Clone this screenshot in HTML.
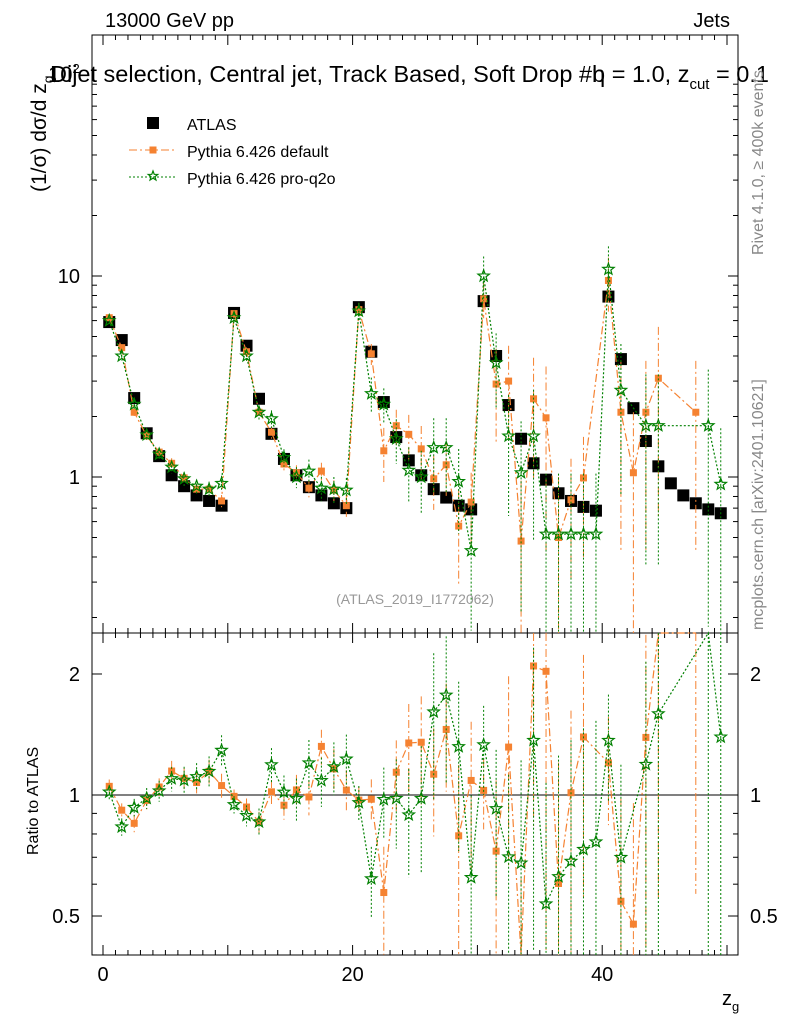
<!DOCTYPE html>
<html><head><meta charset="utf-8"><style>
html,body{margin:0;padding:0;background:#fff;}
svg{font-family:"Liberation Sans",sans-serif;display:block;}
</style></head><body>
<svg id="c" width="786" height="1024" xmlns="http://www.w3.org/2000/svg"></svg>
<script>
// ---- data ----
const binCenters=[0.5,1.5,2.5,3.5,4.5,5.5,6.5,7.5,8.5,9.5,10.5,11.5,12.5,13.5,14.5,15.5,16.5,17.5,18.5,19.5,20.5,21.5,22.5,23.5,24.5,25.5,26.5,27.5,28.5,29.5,30.5,31.5,32.5,33.5,34.5,35.5,36.5,37.5,38.5,39.5,40.5,41.5,42.5,43.5,44.5,45.5,46.5,47.5,48.5,49.5];
const atlas=[5.9,4.8,2.47,1.65,1.27,1.02,0.9,0.81,0.76,0.72,6.55,4.5,2.45,1.64,1.23,1.02,0.89,0.81,0.74,0.7,7.0,4.2,2.36,1.58,1.21,1.02,0.87,0.79,0.72,0.69,7.5,4.0,2.28,1.55,1.17,0.97,0.83,0.76,0.71,0.68,7.9,3.86,2.2,1.51,1.13,0.93,0.81,0.74,0.69,0.66];
const pyDefault=[6.2,4.4,2.1,1.6,1.33,1.17,0.99,0.87,0.87,0.76,6.5,4.2,2.1,1.67,1.16,1.05,0.88,1.07,0.86,0.72,6.8,4.1,1.35,1.8,1.63,1.38,0.98,1.15,0.57,0.75,7.7,2.9,3.0,0.48,2.45,1.97,0.5,0.77,0.99,null,9.5,2.1,1.05,2.1,3.1,null,null,2.1,null,null];
const pyDefaultErr=[0.04,0.04,0.05,0.05,0.05,0.06,0.06,0.06,0.07,0.07,0.04,0.05,0.06,0.07,0.08,0.09,0.1,0.1,0.12,0.12,0.08,0.12,0.3,0.2,0.25,0.3,0.3,0.3,0.5,0.4,0.2,0.5,0.5,1,0.6,0.8,1,0.6,0.6,0,0.3,0.8,1,0.8,0.8,0,0,0.8,0,0];
const pyQ2o=[6.0,4.0,2.3,1.62,1.3,1.12,0.98,0.9,0.87,0.93,6.2,4.0,2.1,1.95,1.25,1.0,1.07,0.88,0.87,0.86,6.7,2.6,2.3,1.55,1.08,1.0,1.4,1.4,0.95,0.43,10,3.7,1.6,1.05,1.6,0.52,0.52,0.52,0.52,0.52,10.8,2.7,null,1.8,1.8,null,null,null,1.8,0.92];
const pyQ2oErr=[0.04,0.05,0.05,0.06,0.06,0.07,0.08,0.08,0.09,0.09,0.05,0.06,0.08,0.1,0.1,0.12,0.14,0.14,0.15,0.15,0.1,0.2,0.2,0.25,0.3,0.35,0.4,0.4,0.45,0.6,0.25,0.4,0.6,0.8,0.7,1,1,1,1,1,0.3,0.7,0,0.8,0.8,0,0,0,0.9,0.9];
const xTicks=[0,20,40];
const mainTicks=[1,10];
const ratioTicks=[0.5,1,2];

const svg=document.getElementById('c');
const NS='http://www.w3.org/2000/svg';
function el(t,a,p){const e=document.createElementNS(NS,t);for(const k in a)e.setAttribute(k,a[k]);(p||svg).appendChild(e);return e;}
const L=92,R=738,T=35,M=633,B=955;
const X=v=>103+v*12.48;
const Y=v=>477-Math.log10(v)*201;
const YR=v=>795-Math.log10(v)*402;
const clipY=(y,a,b)=>Math.max(a,Math.min(b,y));

let f=el('rect',{x:L,y:T,width:R-L,height:M-T,fill:'none',stroke:'#000','stroke-width':1});

f=el('rect',{x:L,y:M,width:R-L,height:B-M,fill:'none',stroke:'#000','stroke-width':1});

el('line',{x1:L,x2:R,y1:YR(1),y2:YR(1),stroke:'#000'});

for(let v=0;v<=50;v++){const x=X(v);if(x<L||x>R)continue;const big=v%10==0;const len=big?10:5;
 el('line',{x1:x,x2:x,y1:B,y2:B-len,stroke:'#000'});el('line',{x1:x,x2:x,y1:T,y2:T+len,stroke:'#000'});
 el('line',{x1:x,x2:x,y1:M,y2:M-len,stroke:'#000'});el('line',{x1:x,x2:x,y1:M,y2:M+len,stroke:'#000'});}
xTicks.forEach(v=>{const t=el('text',{x:X(v),y:981,'font-size':20,'text-anchor':'middle'});t.textContent=v;
 });
for(let d=-1;d<=1;d++)for(let m=1;m<=9;m++){const v=m*Math.pow(10,d);const y=Y(v);if(y<T||y>M)continue;const len=m==1?10:5;
 el('line',{x1:L,x2:L+len,y1:y,y2:y,stroke:'#000'});el('line',{x1:R,x2:R-len,y1:y,y2:y,stroke:'#000'});}
mainTicks.forEach(v=>{const t=el('text',{x:80,y:Y(v)+7,'font-size':20,'text-anchor':'end'});t.textContent=v;
 });
[0.4,0.5,0.6,0.7,0.8,0.9,1,2].forEach(v=>{const y=YR(v);const len=(v==1||v==0.5||v==2)?10:5;
 el('line',{x1:L,x2:L+len,y1:y,y2:y,stroke:'#000'});el('line',{x1:R,x2:R-len,y1:y,y2:y,stroke:'#000'});});
ratioTicks.forEach(v=>{let t=el('text',{x:80,y:YR(v)+7,'font-size':20,'text-anchor':'end'});t.textContent=v;
 
 t=el('text',{x:750,y:YR(v)+7,'font-size':20});t.textContent=v;
 });

function star(cx,cy,r,g,col){let p='';for(let i=0;i<10;i++){const a=-Math.PI/2+i*Math.PI/5;const rr=i%2?r*0.42:r;p+=(cx+rr*Math.cos(a))+','+(cy+rr*Math.sin(a))+' ';}
 const s=el('polygon',{points:p,fill:'none',stroke:col,'stroke-width':1.2},g);return s;}
function drawSeries(vals,errs,col,dash,marker,name){
 const gm=el('g',{});
 const gr=el('g',{});
 let pm='',pr='';
 vals.forEach((v,i)=>{if(v==null)return;const x=X(binCenters[i]);const y=Y(v);const r=v/atlas[i];const yr=YR(r);
  pm+=(pm?'L':'M')+x+','+y;pr+=(pr?'L':'M')+x+','+clipY(yr,M,B);
  const e=errs[i];
  el('line',{x1:x,x2:x,y1:clipY(Y(v*(1+e)),T,M),y2:clipY(Y(Math.max(v*(1-e),0.01)),T,M),stroke:col,'stroke-dasharray':dash},gm);
  el('line',{x1:x,x2:x,y1:clipY(YR(r*(1+e)),M,B),y2:clipY(YR(Math.max(r*(1-e),0.01)),M,B),stroke:col,'stroke-dasharray':dash},gr);
 });
 el('path',{d:pm,fill:'none',stroke:col,'stroke-width':1.2,'stroke-dasharray':dash},gm);
 el('path',{d:pr,fill:'none',stroke:col,'stroke-width':1.2,'stroke-dasharray':dash},gr);
 vals.forEach((v,i)=>{if(v==null)return;const x=X(binCenters[i]);const y=Y(v);const yr=YR(v/atlas[i]);
  let m;if(marker=='sq'){m=el('rect',{x:x-3.5,y:y-3.5,width:7,height:7,fill:col},gm);
   if(yr>M&&yr<B)el('rect',{x:x-3.5,y:yr-3.5,width:7,height:7,fill:col},gr);}
  else{m=star(x,y,6,gm,col);if(yr>M&&yr<B)star(x,yr,6,gr,col);}
  });
}
const ga=el('g',{});
atlas.forEach((v,i)=>{const x=X(binCenters[i]),y=Y(v);const m=el('rect',{x:x-6,y:y-6,width:12,height:12,fill:'#000'},ga);
 });
drawSeries(pyDefault,pyDefaultErr,'#f58231','8,3,2,3','sq','pythia-default');
drawSeries(pyQ2o,pyQ2oErr,'#008000','2,2','star','pythia-pro-q2o');

const lg=el('g',{});
el('rect',{x:147,y:117,width:12,height:12,fill:'#000'},lg);
el('line',{x1:129,x2:176,y1:150,y2:150,stroke:'#f58231','stroke-dasharray':'8,3,2,3'},lg);
el('rect',{x:149.5,y:146.5,width:7,height:7,fill:'#f58231'},lg);
el('line',{x1:129,x2:176,y1:177,y2:177,stroke:'#008000','stroke-dasharray':'2,2'},lg);
star(153,176,5,lg,'#008000');
[['ATLAS',130],['Pythia 6.426 default',157],['Pythia 6.426 pro-q2o',184]].forEach(a=>{const t=el('text',{x:187,y:a[1],'font-size':16},lg);t.textContent=a[0];
 });

function txt(s,a,name){const t=el('text',a);t.innerHTML=s;return t;}
txt('13000 GeV pp',{x:105,y:27,'font-size':20},'energy-label');
txt('Jets',{x:730,y:27,'font-size':20,'text-anchor':'end'},'process-label');
txt('10<tspan font-size="13" dy="-9">2</tspan>',{x:48,y:82,'font-size':22},'y-top-tick');
txt('Dijet selection, Central jet, Track Based, Soft Drop #b<tspan dx="-13">η</tspan> = 1.0, z<tspan font-size="15" dy="7">cut</tspan><tspan dy="-7"> = 0.1</tspan>',{x:50,y:82,'font-size':23.5},'plot-title');
txt('(1/σ) dσ/d z<tspan font-size="14" dy="7">g</tspan>',{x:0,y:0,'font-size':21,transform:'translate(46,192) rotate(-90)'},'y-axis-title');
txt('Ratio to ATLAS',{x:0,y:0,'font-size':16,transform:'translate(38,855) rotate(-90)'},'ratio-axis-title');
txt('z<tspan font-size="13" dy="6">g</tspan>',{x:722,y:1005,'font-size':20},'x-axis-title');
txt('(ATLAS_2019_I1772062)',{x:415,y:604,'font-size':14,fill:'#999','text-anchor':'middle'},'analysis-id');
txt('Rivet 4.1.0, ≥ 400k events',{x:0,y:0,'font-size':16,fill:'#888',transform:'translate(763,255) rotate(-90)'},'rivet-label');
txt('mcplots.cern.ch [arXiv:2401.10621]',{x:0,y:0,'font-size':16,fill:'#888',transform:'translate(763,630) rotate(-90)'},'mcplots-label');
</script>
</body></html>
